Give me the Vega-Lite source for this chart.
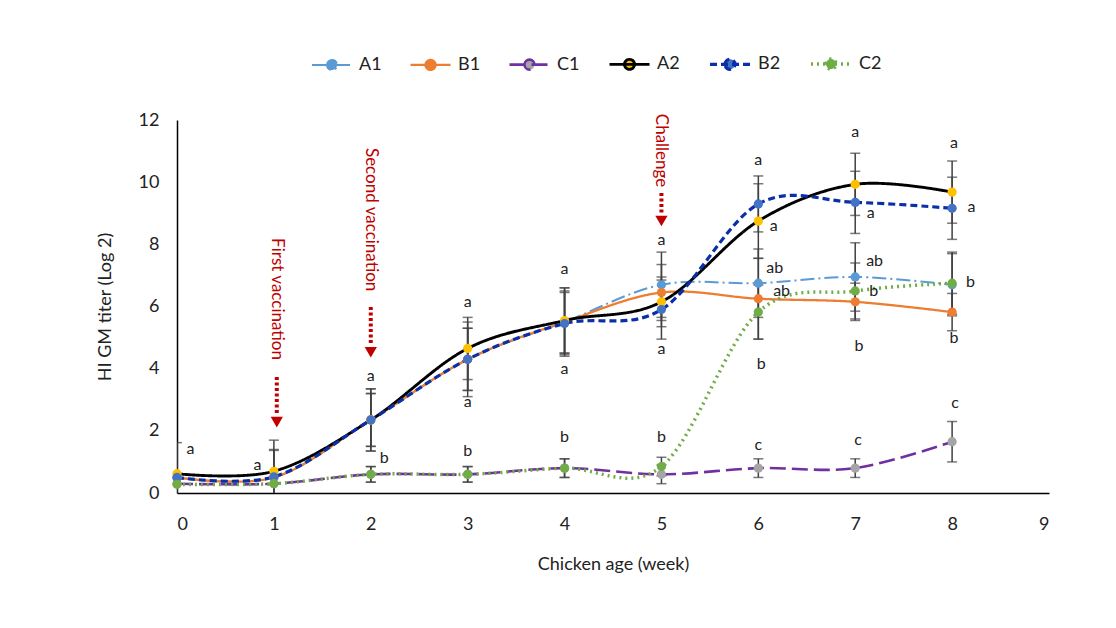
{
  "$schema": "https://vega.github.io/schema/vega-lite/v6.json",
  "width": 872,
  "height": 373,
  "autosize": {"type": "none"},
  "padding": {"left": 177, "top": 120, "right": 67, "bottom": 135},
  "background": "white",
  "config": {
    "view": {"stroke": null},
    "font": "Lato",
    "axis": {"grid": false, "ticks": false, "domainColor": "#000000", "domainWidth": 1.5, "labelColor": "#222222", "titleColor": "#222222", "labelFontSize": 18, "titleFontSize": 18, "titleFontWeight": "normal", "labelFont": "Lato", "titleFont": "Lato"}
  },
  "datasets": {
    "main": [
      {"series": "A1", "week": 0, "v": 0.5, "sd": 0},
      {"series": "A1", "week": 1, "v": 0.5, "sd": 0.9},
      {"series": "A1", "week": 2, "v": 2.35, "sd": 1.0},
      {"series": "A1", "week": 3, "v": 4.3, "sd": 1.2},
      {"series": "A1", "week": 4, "v": 5.5, "sd": 1.1},
      {"series": "A1", "week": 5, "v": 6.7, "sd": 1.05},
      {"series": "A1", "week": 6, "v": 6.75, "sd": 1.1},
      {"series": "A1", "week": 7, "v": 6.95, "sd": 1.1},
      {"series": "A1", "week": 8, "v": 6.7, "sd": 1.0},
      {"series": "B1", "week": 0, "v": 0.5, "sd": 0},
      {"series": "B1", "week": 1, "v": 0.5, "sd": 0},
      {"series": "B1", "week": 2, "v": 2.35, "sd": 0.85},
      {"series": "B1", "week": 3, "v": 4.3, "sd": 1.0},
      {"series": "B1", "week": 4, "v": 5.5, "sd": 1.0},
      {"series": "B1", "week": 5, "v": 6.45, "sd": 0.9},
      {"series": "B1", "week": 6, "v": 6.25, "sd": 1.3},
      {"series": "B1", "week": 7, "v": 6.15, "sd": 0.6},
      {"series": "B1", "week": 8, "v": 5.82, "sd": 0.6},
      {"series": "C1", "week": 0, "v": 0.3, "sd": 0},
      {"series": "C1", "week": 1, "v": 0.3, "sd": 0},
      {"series": "C1", "week": 2, "v": 0.6, "sd": 0.25},
      {"series": "C1", "week": 3, "v": 0.6, "sd": 0.25},
      {"series": "C1", "week": 4, "v": 0.8, "sd": 0.3},
      {"series": "C1", "week": 5, "v": 0.6, "sd": 0.3},
      {"series": "C1", "week": 6, "v": 0.8, "sd": 0.3},
      {"series": "C1", "week": 7, "v": 0.8, "sd": 0.3},
      {"series": "C1", "week": 8, "v": 1.65, "sd": 0.65},
      {"series": "A2", "week": 0, "v": 0.62, "sd": 1.0},
      {"series": "A2", "week": 1, "v": 0.7, "sd": 1.0},
      {"series": "A2", "week": 2, "v": 2.35, "sd": 1.0},
      {"series": "A2", "week": 3, "v": 4.65, "sd": 1.0},
      {"series": "A2", "week": 4, "v": 5.55, "sd": 1.05},
      {"series": "A2", "week": 5, "v": 6.15, "sd": 0.8},
      {"series": "A2", "week": 6, "v": 8.75, "sd": 1.2},
      {"series": "A2", "week": 7, "v": 9.93, "sd": 1.0},
      {"series": "A2", "week": 8, "v": 9.68, "sd": 1.0},
      {"series": "B2", "week": 0, "v": 0.5, "sd": 0},
      {"series": "B2", "week": 1, "v": 0.52, "sd": 0.85},
      {"series": "B2", "week": 2, "v": 2.35, "sd": 0.85},
      {"series": "B2", "week": 3, "v": 4.3, "sd": 1.0},
      {"series": "B2", "week": 4, "v": 5.45, "sd": 1.0},
      {"series": "B2", "week": 5, "v": 5.9, "sd": 0.95},
      {"series": "B2", "week": 6, "v": 9.3, "sd": 0.9},
      {"series": "B2", "week": 7, "v": 9.35, "sd": 1.0},
      {"series": "B2", "week": 8, "v": 9.16, "sd": 1.0},
      {"series": "C2", "week": 0, "v": 0.28, "sd": 0},
      {"series": "C2", "week": 1, "v": 0.3, "sd": 0},
      {"series": "C2", "week": 2, "v": 0.6, "sd": 0.25},
      {"series": "C2", "week": 3, "v": 0.6, "sd": 0.25},
      {"series": "C2", "week": 4, "v": 0.8, "sd": 0.3},
      {"series": "C2", "week": 5, "v": 0.85, "sd": 0.3},
      {"series": "C2", "week": 6, "v": 5.82, "sd": 0.87},
      {"series": "C2", "week": 7, "v": 6.5, "sd": 0.9},
      {"series": "C2", "week": 8, "v": 6.75, "sd": 1.0}
    ],
    "letters": [
      {"week": 0.14, "v": 1.4, "t": "a"},
      {"week": 0.83, "v": 0.9, "t": "a"},
      {"week": 2.0, "v": 3.75, "t": "a"},
      {"week": 2.14, "v": 1.13, "t": "b"},
      {"week": 3.0, "v": 6.14, "t": "a"},
      {"week": 3.0, "v": 2.93, "t": "a"},
      {"week": 3.0, "v": 1.35, "t": "b"},
      {"week": 4.0, "v": 7.2, "t": "a"},
      {"week": 4.0, "v": 4.0, "t": "a"},
      {"week": 4.0, "v": 1.8, "t": "b"},
      {"week": 5.0, "v": 8.13, "t": "a"},
      {"week": 5.0, "v": 4.63, "t": "a"},
      {"week": 5.0, "v": 1.8, "t": "b"},
      {"week": 6.0, "v": 10.7, "t": "a"},
      {"week": 6.16, "v": 8.6, "t": "a"},
      {"week": 6.17, "v": 7.23, "t": "ab"},
      {"week": 6.24, "v": 6.5, "t": "ab"},
      {"week": 6.03, "v": 4.15, "t": "b"},
      {"week": 6.0, "v": 1.54, "t": "c"},
      {"week": 7.0, "v": 11.6, "t": "a"},
      {"week": 7.16, "v": 9.0, "t": "a"},
      {"week": 7.2, "v": 7.46, "t": "ab"},
      {"week": 7.19, "v": 6.5, "t": "b"},
      {"week": 7.04, "v": 4.73, "t": "b"},
      {"week": 7.03, "v": 1.7, "t": "c"},
      {"week": 8.02, "v": 11.25, "t": "a"},
      {"week": 8.2, "v": 9.2, "t": "a"},
      {"week": 8.19, "v": 6.8, "t": "b"},
      {"week": 8.02, "v": 5.0, "t": "b"},
      {"week": 8.03, "v": 2.9, "t": "c"}
    ],
    "events": [
      {"week": 1.03, "v": 8.2, "top": 3.73, "bottom": 2.5, "arrow": 2.28, "label": "First vaccination"},
      {"week": 2.0, "v": 11.1, "top": 5.98, "bottom": 4.76, "arrow": 4.53, "label": "Second vaccination"},
      {"week": 5.0, "v": 12.2, "top": 9.65, "bottom": 9.0, "arrow": 8.75, "label": "Challenge"}
    ]
  },
  "layer": [
    {
      "data": {"name": "main"},
      "transform": [{"filter": "datum.sd > 0"}],
      "mark": {"type": "errorbar", "ticks": {"size": 10}, "color": "#404040", "thickness": 1.5, "clip": true},
      "encoding": {
        "x": {"field": "week", "type": "quantitative", "scale": {"domain": [0, 9], "nice": false}, "axis": {"title": "Chicken age (week)", "values": [0, 1, 2, 3, 4, 5, 6, 7, 8, 9], "format": "d", "labelPadding": 22, "titlePadding": 22}},
        "y": {"field": "v", "type": "quantitative", "scale": {"domain": [0, 12], "nice": false}, "axis": {"title": "HI GM titer (Log 2)", "values": [0, 2, 4, 6, 8, 10, 12], "format": "d", "labelPadding": 18, "titlePadding": 24, "domainWidth": 1.5}},
        "yError": {"field": "sd"}
      }
    },
    {
      "data": {"name": "main"},
      "mark": {"type": "line", "interpolate": "cardinal"},
      "encoding": {
        "x": {"field": "week", "type": "quantitative"},
        "y": {"field": "v", "type": "quantitative"},
        "stroke": {"field": "series", "type": "nominal", "scale": {"domain": ["A1", "B1", "C1", "A2", "B2", "C2"], "range": ["#5B9BD5", "#ED7D31", "#7030A0", "#000000", "#0A2FA8", "#70AD47"]},
          "legend": {"title": null, "orient": "none", "legendX": 134, "legendY": -78, "direction": "horizontal",
            "symbolType": "M-1,0H1M-0.25,0A0.25,0.25,0,1,1,0.25,0A0.25,0.25,0,1,1,-0.25,0Z",
            "symbolSize": 1600, "symbolStrokeWidth": 3, "labelFontSize": 18, "labelFont": "Lato", "labelColor": "#222222", "labelOffset": 6, "columnPadding": 23}},
        "strokeDash": {"field": "series", "type": "nominal", "scale": {"domain": ["A1", "B1", "C1", "A2", "B2", "C2"], "range": [[14, 4, 2, 4], [1, 0], [16, 6], [1, 0], [7, 4], [2, 4]]},
          "legend": {"title": null, "orient": "none", "legendX": 134, "legendY": -78, "direction": "horizontal",
            "symbolType": "M-1,0H1M-0.25,0A0.25,0.25,0,1,1,0.25,0A0.25,0.25,0,1,1,-0.25,0Z",
            "symbolSize": 1600, "symbolStrokeWidth": 3, "labelFontSize": 18, "labelFont": "Lato", "labelColor": "#222222", "labelOffset": 6, "columnPadding": 23}},
        "strokeWidth": {"field": "series", "type": "nominal", "legend": null, "scale": {"domain": ["A1", "B1", "C1", "A2", "B2", "C2"], "range": [2, 3.5, 3.5, 2, 3, 3.5]}}
      }
    },
    {
      "data": {"name": "main"},
      "mark": {"type": "circle", "size": 85, "opacity": 1},
      "encoding": {
        "x": {"field": "week", "type": "quantitative"},
        "y": {"field": "v", "type": "quantitative"},
        "fill": {"field": "series", "type": "nominal", "scale": {"domain": ["A1", "B1", "C1", "A2", "B2", "C2"], "range": ["#5B9BD5", "#ED7D31", "#A5A5A5", "#FFC000", "#4472C4", "#70AD47"]},
          "legend": {"title": null, "orient": "none", "legendX": 134, "legendY": -78, "direction": "horizontal",
            "symbolType": "M-1,0H1M-0.25,0A0.25,0.25,0,1,1,0.25,0A0.25,0.25,0,1,1,-0.25,0Z",
            "symbolSize": 1600, "symbolStrokeWidth": 3, "labelFontSize": 18, "labelFont": "Lato", "labelColor": "#222222", "labelOffset": 6, "columnPadding": 23}}
      }
    },
    {
      "data": {"name": "letters"},
      "mark": {"type": "text", "fontSize": 16, "color": "#222222", "align": "center", "baseline": "middle", "font": "Lato"},
      "encoding": {
        "x": {"field": "week", "type": "quantitative"},
        "y": {"field": "v", "type": "quantitative"},
        "text": {"field": "t"}
      }
    },
    {
      "data": {"name": "events"},
      "mark": {"type": "text", "angle": 90, "align": "left", "baseline": "middle", "fontSize": 17, "color": "#C00000", "font": "Lato"},
      "encoding": {
        "x": {"field": "week", "type": "quantitative"},
        "y": {"field": "v", "type": "quantitative"},
        "text": {"field": "label"}
      }
    },
    {
      "data": {"name": "events"},
      "mark": {"type": "rule", "strokeWidth": 4, "strokeDash": [3, 2.5], "color": "#C00000"},
      "encoding": {
        "x": {"field": "week", "type": "quantitative"},
        "y": {"field": "top", "type": "quantitative"},
        "y2": {"field": "bottom"}
      }
    },
    {
      "data": {"name": "events"},
      "mark": {"type": "point", "shape": "triangle-down", "filled": true, "size": 150, "color": "#C00000", "opacity": 1},
      "encoding": {
        "x": {"field": "week", "type": "quantitative"},
        "y": {"field": "arrow", "type": "quantitative"}
      }
    }
  ]
}
